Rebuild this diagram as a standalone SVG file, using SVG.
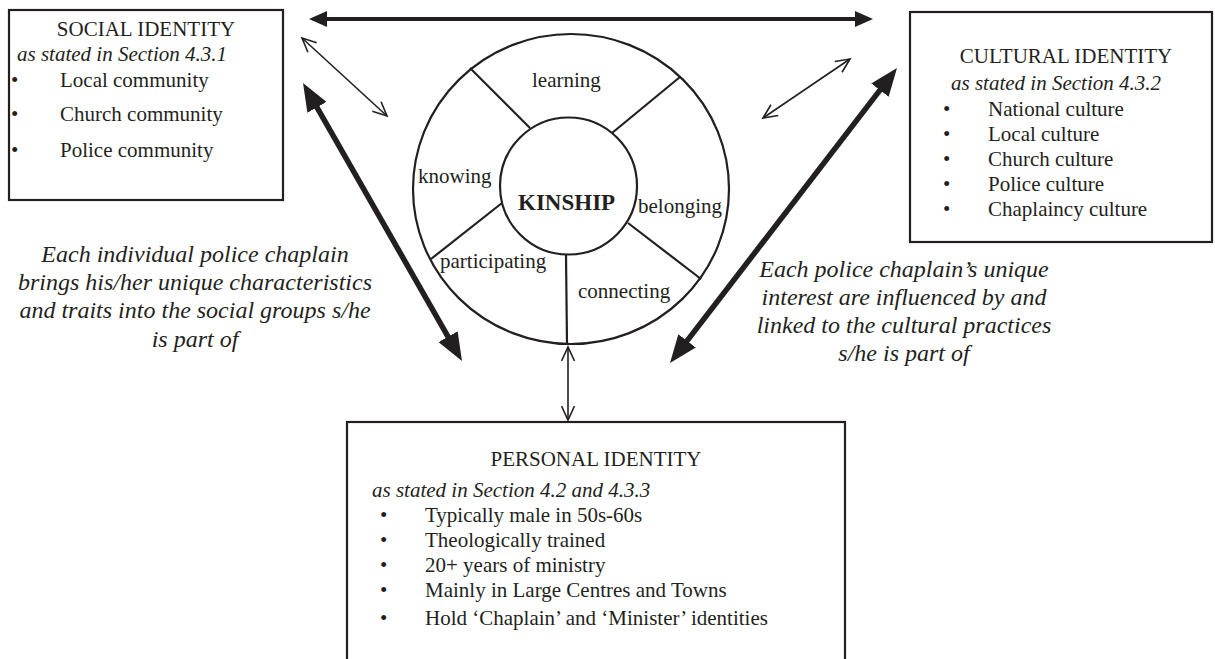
<svg xmlns="http://www.w3.org/2000/svg" width="1215" height="659" viewBox="0 0 1215 659">
<style>
text{font-family:"Liberation Serif","Times New Roman",serif;font-size:21px;fill:#231f20}
.it{font-style:italic}
.note{font-style:italic;font-size:24px;text-anchor:middle}
.ttl{text-anchor:middle}
.box{fill:#fff;stroke:#231f20;stroke-width:2.2}
.ring{fill:none;stroke:#231f20;stroke-width:2.2}
.thick{stroke:#231f20;stroke-width:5.5;fill:none}
.mid{stroke:#231f20;stroke-width:4;fill:none}
.thin{stroke:#231f20;stroke-width:1.6;fill:none}
</style>
<defs>
<marker id="hThick" markerUnits="userSpaceOnUse" viewBox="0 0 28 22" markerWidth="28" markerHeight="22" refX="18" refY="11" orient="auto-start-reverse"><path d="M0,0 L28,11 L0,22 z" fill="#231f20"/></marker>
<marker id="hMid" markerUnits="userSpaceOnUse" viewBox="0 0 18 16" markerWidth="18" markerHeight="16" refX="11" refY="8" orient="auto-start-reverse"><path d="M0,0 L18,8 L0,16 z" fill="#231f20"/></marker>
<marker id="hThin" markerUnits="userSpaceOnUse" viewBox="-1 -1 17 15" markerWidth="17" markerHeight="15" refX="14" refY="6.5" orient="auto-start-reverse"><path d="M0,0 L14,6.5 L0,13" fill="none" stroke="#231f20" stroke-width="1.6"/></marker>
</defs>

<g id="social">
<rect class="box" x="9" y="10" width="274" height="190"/>
<text class="ttl" x="146" y="36">SOCIAL IDENTITY</text>
<text class="it" x="17" y="61">as stated in Section 4.3.1</text>
<text x="11" y="87">•</text><text x="60" y="87">Local community</text>
<text x="11" y="121">•</text><text x="60" y="121">Church community</text>
<text x="11" y="157">•</text><text x="60" y="157">Police community</text>
</g>

<g id="cultural">
<rect class="box" x="910" y="12" width="302" height="230"/>
<text class="ttl" x="1066" y="63">CULTURAL IDENTITY</text>
<text class="it ttl" x="1056" y="90">as stated in Section 4.3.2</text>
<text x="943" y="116">•</text><text x="988" y="116">National culture</text>
<text x="943" y="141">•</text><text x="988" y="141">Local culture</text>
<text x="943" y="166">•</text><text x="988" y="166">Church culture</text>
<text x="943" y="191">•</text><text x="988" y="191">Police culture</text>
<text x="943" y="216">•</text><text x="988" y="216">Chaplaincy culture</text>
</g>

<g id="personal">
<rect class="box" x="347" y="422" width="498" height="245"/>
<text class="ttl" x="596" y="466">PERSONAL IDENTITY</text>
<text class="it" x="372" y="497">as stated in Section 4.2 and 4.3.3</text>
<text x="380" y="522">•</text><text x="425" y="522">Typically male in 50s-60s</text>
<text x="380" y="547">•</text><text x="425" y="547">Theologically trained</text>
<text x="380" y="572">•</text><text x="425" y="572">20+ years of ministry</text>
<text x="380" y="597">•</text><text x="425" y="597">Mainly in Large Centres and Towns</text>
<text x="380" y="625">•</text><text x="425" y="625">Hold ‘Chaplain’ and ‘Minister’ identities</text>
</g>

<g id="kinship">
<ellipse class="ring" cx="571" cy="189" rx="158" ry="155"/>
<circle class="ring" cx="568.5" cy="186" r="68.5"/>
<line class="ring" x1="470" y1="68" x2="530" y2="128"/>
<line class="ring" x1="680" y1="77" x2="612" y2="133"/>
<line class="ring" x1="431" y1="259" x2="502" y2="203"/>
<line class="ring" x1="628" y1="223" x2="701" y2="279"/>
<line class="ring" x1="566" y1="255" x2="567" y2="344"/>
<text x="532" y="87">learning</text>
<text x="418" y="183">knowing</text>
<text x="518" y="210" style="font-weight:bold;font-size:23px">KINSHIP</text>
<text x="638" y="213">belonging</text>
<text x="440" y="268">participating</text>
<text x="578" y="298">connecting</text>
</g>

<g id="note-social">
<text class="note" x="195" y="262">Each individual police chaplain</text>
<text class="note" x="195" y="290">brings his/her unique characteristics</text>
<text class="note" x="195" y="318">and traits into the social groups s/he</text>
<text class="note" x="195" y="347">is part of</text>
</g>

<g id="note-cultural">
<text class="note" x="904" y="277">Each police chaplain’s unique</text>
<text class="note" x="904" y="305">interest are influenced by and</text>
<text class="note" x="904" y="333">linked to the cultural practices</text>
<text class="note" x="904" y="361">s/he is part of</text>
</g>

<g id="connectors">
<line class="mid" x1="316" y1="19" x2="866" y2="19" marker-start="url(#hMid)" marker-end="url(#hMid)"/>
<line class="thick" x1="308" y1="91.7" x2="457" y2="352.3" marker-start="url(#hThick)" marker-end="url(#hThick)"/>
<line class="thick" x1="890.9" y1="75.9" x2="676.1" y2="355.1" marker-start="url(#hThick)" marker-end="url(#hThick)"/>
<line class="thin" x1="302" y1="38" x2="387" y2="116" marker-start="url(#hThin)" marker-end="url(#hThin)"/>
<line class="thin" x1="850" y1="59" x2="763" y2="118" marker-start="url(#hThin)" marker-end="url(#hThin)"/>
<line class="thin" x1="568" y1="347" x2="568" y2="420" marker-start="url(#hThin)" marker-end="url(#hThin)"/>
</g>
</svg>
